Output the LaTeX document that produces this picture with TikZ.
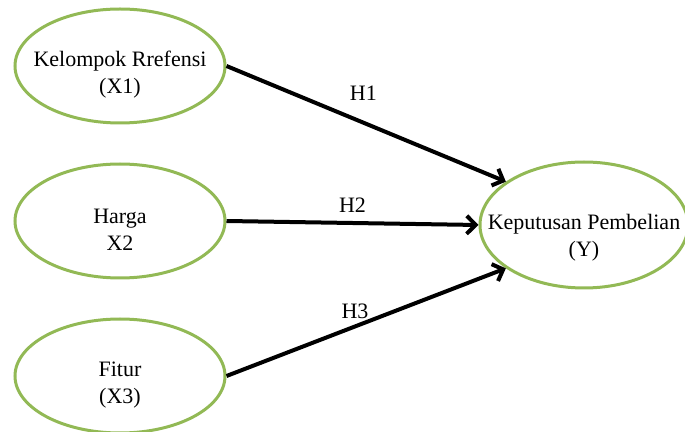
\documentclass[tikz,border=0pt]{standalone}
\usepackage{fontspec}
\setmainfont{Liberation Serif}
\usetikzlibrary{shapes,arrows.meta,positioning}
\definecolor{vargreen}{HTML}{92B955}
\tikzset{
var/.style = {draw=vargreen, line width=3pt, ellipse, minimum width=210pt, minimum height=114pt, inner sep=0pt},
vartext/.style = {font=\fontsize{22}{27}\selectfont, align=center, yshift=-9pt},
hyp/.style = {font=\fontsize{22}{27}\selectfont, inner sep=0pt}
}
\begin{document}
\begin{tikzpicture}[x=1pt, y=1pt, node distance=155pt, >={Straight Barb[length=9pt,width=18pt]}]
\useasboundingbox (0,0) rectangle (685,431);
\node[var, label={[vartext]center:{Kelompok Rrefensi\\(X1)}}] (x1) at (120,365) {};
\node[var, below of=x1, label={[vartext]center:{Harga\\X2}}] (x2) {};
\node[var, below of=x2, label={[vartext]center:{Fitur\\(X3)}}] (x3) {};
\node[var, right of=x2, node distance=464pt, yshift=-4pt, minimum width=208pt, minimum height=126pt, label={[vartext, yshift=-4pt]center:{Keputusan Pembelian\\(Y)}}] (y) {};
\draw[->,line width=4pt] (x1.east) -- node[hyp, above=20pt, pos=0.49]{H1} (y.151);
\draw[->,line width=4pt] (x2.east) -- node[hyp, above=8pt]{H2} (y.west);
\draw[->,line width=4pt] (x3.east) -- node[hyp, above=6pt, pos=0.46]{H3} (y.209);
\end{tikzpicture}
\end{document}
